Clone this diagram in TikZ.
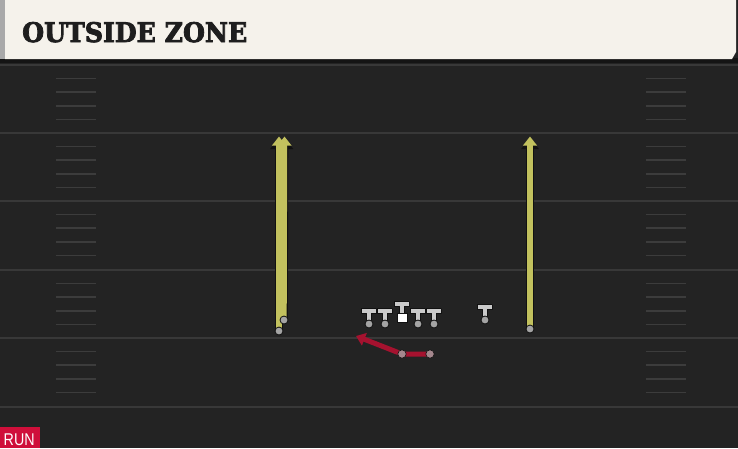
\documentclass[tikz,border=0pt]{standalone}
\usepackage{fontspec}
\usetikzlibrary{arrows.meta}
\newfontfamily\titlefont{DejaVu Serif}[BoldFeatures={FakeBold=3}]
\newfontfamily\labelfont{Liberation Sans}
\definecolor{field}{HTML}{232323}
\definecolor{yardline}{HTML}{383838}
\definecolor{hashc}{HTML}{3C3C3C}
\definecolor{cream}{HTML}{F5F2EB}
\definecolor{edgegray}{HTML}{A9A9A9}
\definecolor{shadowc}{HTML}{141414}
\definecolor{routey}{HTML}{C2C15E}
\definecolor{runred}{HTML}{A5122F}
\definecolor{outl}{HTML}{111111}
\definecolor{tgray}{HTML}{CACACA}
\definecolor{dotgray}{HTML}{A4A4A4}
\definecolor{runbox}{HTML}{CF0F3A}
\definecolor{titlec}{HTML}{1E1E1E}
\tikzset{
  yard/.style={yardline, line width=1.6pt},
  hashmark/.style={hashc, line width=1.6pt},
  routeout/.style={outl, line width=7.6pt, -{Triangle[length=11pt,width=17pt]}},
  routein/.style={routey, line width=5.4pt, -{Triangle[length=9pt,width=13.5pt]}},
  runline/.style={runred, line width=5pt, line join=round, -{Triangle[length=9pt,width=13pt]}},
  pdot/.style={draw=outl, fill=dotgray, line width=0.8pt},
  rundot/.style={draw=outl, fill=dotgray!80!runred, line width=0.6pt},
  tman/.pic={
    \filldraw[draw=outl, fill=tgray, line width=1pt, line join=round]
      (-7.5,-16) -- (7.5,-16) -- (7.5,-11) -- (2.4,-11) -- (2.4,-3) -- (-2.4,-3) -- (-2.4,-11) -- (-7.5,-11) -- cycle;
    \filldraw[pdot] (0,0) circle (4);
  },
  cman/.pic={
    \filldraw[draw=outl, fill=tgray, line width=1pt, line join=round]
      (-7.5,-21) -- (7.5,-21) -- (7.5,-16) -- (2.4,-16) -- (2.4,-9) -- (-2.4,-9) -- (-2.4,-16) -- (-7.5,-16) -- cycle;
    \filldraw[draw=outl, fill=white, line width=1pt] (-5,-9) rectangle (5,0.5);
  }
}
\begin{document}
\begin{tikzpicture}[x=1pt, y=-1pt]
\useasboundingbox (0,0) rectangle (738,448);
% field
\fill[field] (0,0) rectangle (738,448);
% yard lines
\foreach \yy in {65,133,201,270,338,407}
  \draw[yard] (0,\yy) -- (738,\yy);
% hash marks
\foreach \yy in {65,133,201,270,338} {
  \foreach \k in {1,2,3,4} {
    \draw[hashmark] (56,{\yy+\k*13.6}) -- (96,{\yy+\k*13.6});
    \draw[hashmark] (646,{\yy+\k*13.6}) -- (686,{\yy+\k*13.6});
  }
}
% header
\fill[shadowc] (0,58) rectangle (738,63);
\fill[cream] (5,0) -- (736,0) -- (736,52) -- (732,59) -- (5,59) -- cycle;
\fill[edgegray] (0,0) rectangle (5,59);
\node[anchor=base west, inner sep=0, text=titlec] (title) at (22,42)
  {\resizebox{225pt}{20pt}{\titlefont\bfseries OUTSIDE ZONE}};
% RUN tag
\node[fill=runbox, anchor=south west, minimum width=40pt, minimum height=21pt, inner sep=0] (runtag) at (0,448) {};
\node[anchor=base west, inner sep=0, text=white] (runlabel) at (3.5,445.5)
  {\labelfont\fontsize{17}{17}\selectfont\scalebox{0.84}[1]{RUN}};
% coordinates
\coordinate (wa) at (279,331);
\coordinate (wae) at (279,138);
\coordinate (wb) at (284,320);
\coordinate (wbe) at (284.5,138);
\coordinate (wc) at (530,329);
\coordinate (wce) at (530,138);
\coordinate (rb) at (430,354);
\coordinate (handoff) at (402,354);
\coordinate (runend) at (356,336);
% routes
\draw[routeout] (wa) -- (wae);
\draw[routeout] (wb) -- (wbe);
\draw[routein] (wa) -- ([yshift=1.5pt]wae);
\draw[routein] (wb) -- ([yshift=1.5pt]wbe);
\draw[routeout] (wc) -- (wce);
\draw[routein] (wc) -- ([yshift=1.5pt]wce);
\filldraw[pdot] (wa) circle (4);
\filldraw[pdot] (wb) circle (4);
\filldraw[pdot] (wc) circle (4);
% run
\draw[runline] (rb) -- (handoff) -- (runend);
\filldraw[rundot] (rb) circle (4.2);
\filldraw[rundot] (handoff) circle (4.2);
% offensive line
\pic at (369,324) {tman};
\pic at (385,324) {tman};
\pic at (402,322) {cman};
\pic at (418,324) {tman};
\pic at (434,324) {tman};
\pic at (485,320) {tman};
\end{tikzpicture}
\end{document}
